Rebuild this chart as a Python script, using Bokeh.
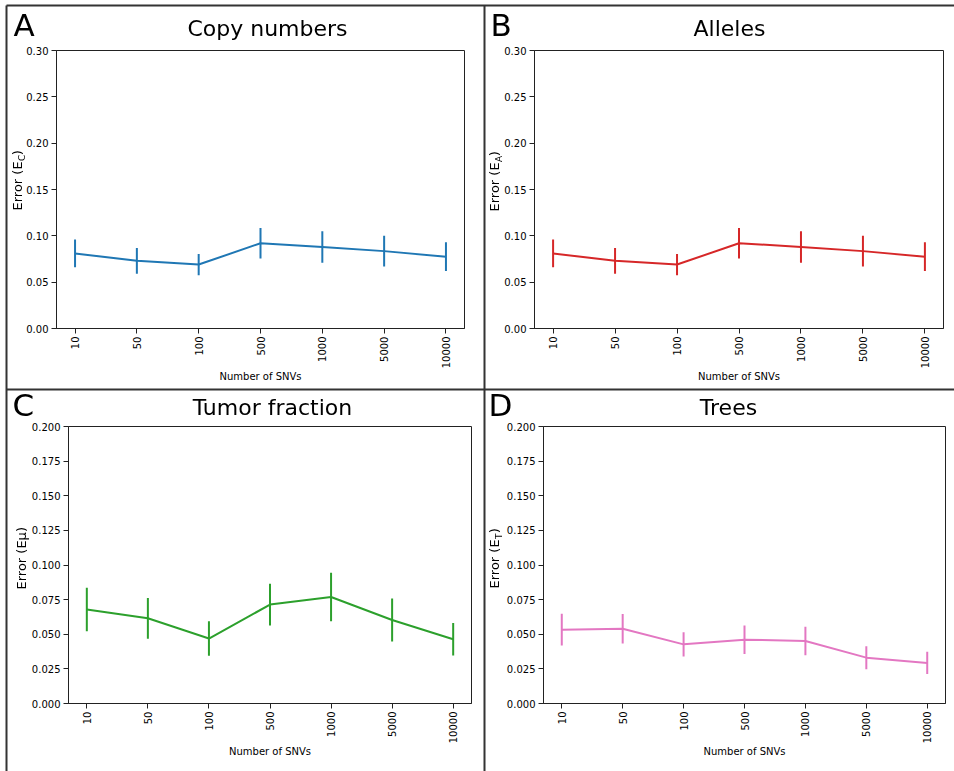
import math
from bokeh.plotting import figure
from bokeh.layouts import column, row
from bokeh.models import Range1d, FixedTicker, NumeralTickFormatter, Label
from bokeh.embed import file_html
from bokeh.resources import INLINE

# ---- data ----
snvs = ["10", "50", "100", "500", "1000", "5000", "10000"]
copy_mean = [0.081, 0.073, 0.069, 0.092, 0.088, 0.0835, 0.0775]
copy_err = [0.015, 0.014, 0.0115, 0.0165, 0.017, 0.0165, 0.0155]
allele_mean = [0.081, 0.073, 0.069, 0.092, 0.088, 0.0835, 0.0775]
allele_err = [0.015, 0.014, 0.0115, 0.0165, 0.017, 0.0165, 0.0155]
tumor_mean = [0.0678, 0.0615, 0.0469, 0.0714, 0.0769, 0.0603, 0.0464]
tumor_err = [0.0157, 0.0147, 0.0125, 0.015, 0.0175, 0.0155, 0.0118]
tree_mean = [0.0533, 0.054, 0.0427, 0.0461, 0.0451, 0.0331, 0.0293]
tree_err = [0.0115, 0.0107, 0.0088, 0.0103, 0.0103, 0.0083, 0.008]
yticks_top = [0.0, 0.05, 0.10, 0.15, 0.20, 0.25, 0.30]
yticks_bottom = [0.0, 0.025, 0.05, 0.075, 0.10, 0.125, 0.15, 0.175, 0.20]
titles = ["Copy numbers", "Alleles", "Tumor fraction", "Trees"]
letters = ["A", "B", "C", "D"]
ysubs = ["C", "A", None, "T"]

FONT = "DejaVu Sans"
W, H = 954, 771
# approximate DejaVu Sans advance widths (em units /2048)
ADV = {"E": 1294, "r": 842, "o": 1253, " ": 651, "(": 799, ")": 799}
BASE_K = 0.38  # empirical: Bokeh label baseline sits ~0.38em below the anchor


def tw(s, size):
    return sum(ADV.get(c, 1300) for c in s) / 2048 * size


def panel(mean, err, color, ymax, yticks, yfmt, origin, frame):
    ox, oy, ow, oh = origin
    fl, fr, ft, fb = frame
    p = figure(frame_width=fr - fl, frame_height=fb - ft,
               min_border_left=fl - ox, min_border_right=ox + ow - fr,
               min_border_top=ft - oy, min_border_bottom=oy + oh - fb,
               x_range=Range1d(-0.3, 6.3), y_range=Range1d(0, ymax),
               toolbar_location=None, output_backend="svg")
    p.title.visible = False
    p.grid.visible = False
    p.background_fill_color = "white"
    p.border_fill_color = "white"
    p.outline_line_color = "#222222"
    p.outline_line_width = 1
    xs = list(range(len(snvs)))
    lo = [m - e for m, e in zip(mean, err)]
    hi = [m + e for m, e in zip(mean, err)]
    p.line(xs, mean, line_color=color, line_width=2)
    p.segment(x0=xs, y0=lo, x1=xs, y1=hi, line_color=color, line_width=2)

    for ax in (p.xaxis[0], p.yaxis[0]):
        ax.axis_line_color = "#222222"
        ax.major_tick_line_color = "#222222"
        ax.major_tick_in = 0
        ax.major_tick_out = 5
        ax.minor_tick_line_color = None
        ax.major_label_text_font = FONT
        ax.major_label_text_font_size = "10px"
        ax.major_label_text_color = "black"
    xa = p.xaxis[0]
    xa.ticker = FixedTicker(ticks=xs)
    xa.major_label_overrides = {i: s for i, s in enumerate(snvs)}
    xa.major_label_orientation = math.pi / 2
    xa.major_label_standoff = 3
    xa.axis_label = "Number of SNVs"
    xa.axis_label_text_font = FONT
    xa.axis_label_text_font_size = "10px"
    xa.axis_label_text_font_style = "normal"
    xa.axis_label_text_color = "black"
    xa.axis_label_standoff = 0
    ya = p.yaxis[0]
    ya.ticker = FixedTicker(ticks=yticks)
    ya.formatter = NumeralTickFormatter(format=yfmt)
    ya.major_label_standoff = 3
    return p


pA = panel(copy_mean, copy_err, "#1f77b4", 0.30, yticks_top, "0.00",
           (6, 5, 478, 384), (56, 464, 50, 328))
pB = panel(allele_mean, allele_err, "#d62728", 0.30, yticks_top, "0.00",
           (484, 5, 470, 384), (534, 943, 50, 328))
pC = panel(tumor_mean, tumor_err, "#2ca02c", 0.20, yticks_bottom, "0.000",
           (6, 389, 478, 382), (68, 471, 424, 701))
pD = panel(tree_mean, tree_err, "#e377c2", 0.20, yticks_bottom, "0.000",
           (484, 389, 470, 382), (543, 945, 426, 703))

grid = column(row(pA, pB), row(pC, pD), margin=(5, 0, 0, 6))

# ---- overlay with panel titles, letters, y-labels and panel borders (page pixel coords) ----
ov = figure(width=W, height=H, min_border=0, x_range=Range1d(0, W), y_range=Range1d(H, 0),
            x_axis_type=None, y_axis_type=None, toolbar_location=None, output_backend="svg",
            styles={"position": "fixed", "top": "0px", "left": "0px", "z-index": "10",
                    "pointer-events": "none"})
ov.title.visible = False
ov.grid.visible = False
ov.background_fill_alpha = 0
ov.border_fill_alpha = 0
ov.outline_line_color = None

ov.segment(x0=[6, 6, 484, 6], y0=[5, 5, 5, 389], x1=[6, 954, 484, 954], y1=[771, 5, 771, 389],
           line_color="#333333", line_width=2)


def txt(X, Y, text, size, angle=0.0, align="left"):
    # X, Y: desired baseline position in page pixels
    if angle == 0.0:
        Y = Y - BASE_K * size
    else:
        X = X - BASE_K * size
    ov.add_layout(Label(x=X, y=Y, text=text, text_font=FONT, text_font_size=f"{size}px",
                        angle=angle, text_align=align, text_baseline="alphabetic",
                        text_color="black"))


title_pos = [(267, 36), (729, 36), (272, 415), (728, 415)]
letter_pos = [(13, 36), (490, 36), (12, 416), (488, 416)]
ylab_pos = [(22, 210), (499, 211), (26, 589), (499, 588)]
for t, (tx, ty), l, (lx, ly), s, (bx, by) in zip(titles, title_pos, letters, letter_pos, ysubs, ylab_pos):
    txt(tx, ty, t, 22, align="center")
    txt(lx, ly, l, 31)
    if s is None:
        txt(bx, by, "Error (Eμ)", 13, angle=math.pi / 2)
    else:
        main = "Error (E"
        w1 = tw(main, 13)
        txt(bx, by, main, 13, angle=math.pi / 2)
        txt(bx + 2.5, by - w1, s, 9, angle=math.pi / 2)
        w2 = tw(s, 9)
        txt(bx, by - w1 - w2, ")", 13, angle=math.pi / 2)

open("out.html", "w").write(file_html([grid, ov], INLINE))
